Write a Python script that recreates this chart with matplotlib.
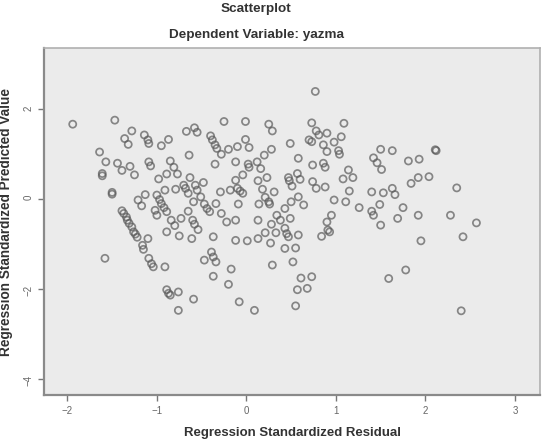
import matplotlib.pyplot as plt

plt.rcParams['font.family'] = ['Liberation Sans', 'DejaVu Sans']

# Regression standardized residual (x) / standardized predicted value (y)
residual = [
    -1.94, -1.47, -1.28, -1.36, -1.32, -1.14, -1.64, -1.57, -1.44, -1.39,
    -1.30, -1.25, -1.61, -1.61, -1.50, -1.50, -1.13, -1.21, -1.17, -1.39,
    -1.37, -1.34, -1.33, -1.31, -1.28, -1.26, -1.24, -1.22, -1.16, -1.15,
    -1.10, -1.09, -1.58,
    -1.10, -1.09, -0.95, -0.87, -0.67, -0.58, -0.55, -0.40, -0.38, -0.35,
    -0.33, -0.28, -0.25, -0.20, -0.10, -0.64, -1.09, -1.07, -0.85, -0.81,
    -0.77, -0.89, -0.98, -0.35, -0.12, -0.63, -0.48, -0.57, -0.55, -0.70,
    -0.68, -0.65, -0.79, -0.91, -1.00, -0.97, -0.95, -0.92, -1.02, -1.00,
    -0.89, -0.84, -0.80, -0.73, -0.65, -0.60, -0.58, -0.54, -0.59, -0.51,
    -0.47, -0.44, -0.41, -0.34, -0.29, -0.18, -0.12, -0.10, -0.28, -0.22,
    -0.12, -0.12, -0.37, -0.39, -0.37, -0.34, -0.47, -0.37, -0.17, -0.20,
    -0.08, -0.61, -0.75, -0.89, -1.06, -1.04, -0.91, -0.89, -0.87, -0.85,
    -0.76, -0.59, -0.76,
    0.77, -0.01, 0.25, 0.29, 0.73, 0.78, 0.81, 0.73, 0.70, 0.90,
    0.86, 0.90, -0.01, 0.03, 0.49, 0.28, 0.20, 0.58, 0.02, 0.03,
    0.12, 0.16, -0.04, 0.23, 0.74, 0.86, 0.88, 0.57, 0.60, 0.47,
    0.48, 0.51, 0.13, 0.74, 0.78, 0.88, -0.07, -0.04, 0.18, 0.31,
    0.21, 0.25, 0.26, 0.14, -0.09, 0.50, 0.58, 0.64, 0.43, 0.34,
    0.38, 0.49, 0.43, 0.45, 0.47, 0.28, 0.13, 0.33, 0.21, 0.27,
    0.13, 0.01, 0.58, 0.55, 0.43, 0.52, 0.29, 0.61, 0.73, 0.57,
    0.68, 0.09, 0.55, 0.84,
    1.09, 1.06, 0.98, 1.03, 1.04, 1.50, 1.63, 1.42, 1.46, 1.51,
    1.81, 1.14, 1.08, 1.19, 1.84, 1.15, 1.40, 1.53, 1.63, 1.66,
    0.98, 1.11, 1.26, 1.49, 1.75, 1.40, 1.42, 0.95, 1.69, 1.50,
    0.90, 0.91, 0.93, 1.78, 1.59,
    2.11, 2.12, 1.93, 1.92, 2.04, 2.35, 1.92, 2.28, 2.57, 1.95,
    2.42, 2.40,
]
predicted = [
    1.67, 1.76, 1.52, 1.35, 1.22, 1.43, 1.05, 0.83, 0.80, 0.64,
    0.73, 0.54, 0.57, 0.52, 0.15, 0.11, 0.10, -0.02, -0.15, -0.26,
    -0.32, -0.40, -0.47, -0.54, -0.62, -0.73, -0.78, -0.85, -1.03, -1.12,
    -0.88, -1.32, -1.32,
    1.32, 1.24, 1.19, 1.33, 1.51, 1.59, 1.49, 1.41, 1.32, 1.21,
    1.13, 1.00, 1.73, 1.11, 1.17, 0.98, 0.83, 0.74, 0.85, 0.71,
    0.56, 0.56, 0.45, 0.78, 0.83, 0.48, 0.37, 0.31, 0.20, 0.31,
    0.24, 0.13, 0.22, 0.20, 0.09, -0.01, -0.10, -0.19, -0.25, -0.36,
    -0.28, -0.47, -0.59, -0.43, -0.27, -0.47, -0.56, -0.68, -0.06, 0.05,
    -0.11, -0.21, -0.28, -0.10, 0.16, 0.20, 0.42, 0.24, -0.32, -0.51,
    -0.47, -0.92, -0.84, -1.18, -1.29, -1.40, -1.36, -1.72, -1.56, -1.90,
    -2.29, -0.88, -0.82, -0.73, -1.44, -1.51, -1.51, -2.02, -2.10, -2.14,
    -2.07, -2.23, -2.48,
    2.40, 1.73, 1.67, 1.52, 1.70, 1.52, 1.43, 1.28, 1.32, 1.47,
    1.21, 1.06, 1.33, 1.15, 1.24, 1.11, 0.98, 0.91, 0.78, 0.71,
    0.83, 0.68, 0.54, 0.48, 0.76, 0.80, 0.71, 0.57, 0.44, 0.48,
    0.41, 0.29, 0.41, 0.39, 0.24, 0.27, 0.18, 0.13, 0.22, 0.16,
    0.04, -0.06, -0.11, -0.11, -0.11, -0.06, 0.05, -0.13, -0.21, -0.36,
    -0.47, -0.43, -0.65, -0.77, -0.84, -0.56, -0.47, -0.75, -0.75, -0.98,
    -0.88, -0.93, -0.80, -1.09, -1.10, -1.40, -1.47, -1.76, -1.73, -2.02,
    -1.99, -2.48, -2.38, -0.83,
    1.69, 1.39, 1.27, 1.08, 1.00, 1.11, 1.08, 0.92, 0.81, 0.66,
    0.85, 0.65, 0.45, 0.48, 0.35, 0.18, 0.16, 0.14, 0.24, 0.10,
    -0.02, -0.06, -0.19, -0.12, -0.19, -0.27, -0.36, -0.36, -0.43, -0.58,
    -0.51, -0.69, -0.73, -1.58, -1.77,
    1.10, 1.08, 0.89, 0.48, 0.50, 0.25, -0.36, -0.36, -0.53, -0.93,
    -0.84, -2.49,
]

fig = plt.figure(figsize=(5.51, 4.48), dpi=100)
ax = fig.add_axes([0.080, 0.118, 0.900, 0.775])
ax.set_facecolor('#ebebeb')

ax.scatter(residual, predicted, s=26, facecolors='none', edgecolors='#5a5a5a',
           linewidths=1.25, alpha=0.7)

ax.set_xlim(-2.26, 3.28)
ax.set_ylim(-4.37, 3.37)
ax.set_xticks([-2, -1, 0, 1, 2, 3])
ax.set_yticks([-4, -2, 0, 2])
ax.tick_params(axis='both', colors='#777777', labelsize=7, length=4, width=1)
ax.tick_params(axis='x', labelcolor='#666666')
ax.tick_params(axis='y', labelcolor='#666666', labelrotation=90)

for side in ['left', 'bottom']:
    ax.spines[side].set_color('#8a8a8a')
    ax.spines[side].set_linewidth(1.6)
for side in ['top', 'right']:
    ax.spines[side].set_color('#b0b0b0')
    ax.spines[side].set_linewidth(1.2)

ax.set_xlabel('Regression Standardized Residual', fontsize=9.5, fontweight='bold',
              color='#333333', labelpad=8)
ax.set_ylabel('Regression Standardized Predicted Value', fontsize=9.8, fontweight='bold',
              color='#333333')
ax.yaxis.set_label_coords(-0.063, 0.5)

fig.text(0.465, 0.993, 'Scatterplot', ha='center', va='top', fontsize=9.7,
         fontweight='bold', color='#333333')
fig.text(0.465, 0.935, 'Dependent Variable: yazma', ha='center', va='top', fontsize=9.7,
         fontweight='bold', color='#333333')

fig.savefig('out.png', dpi=100)
